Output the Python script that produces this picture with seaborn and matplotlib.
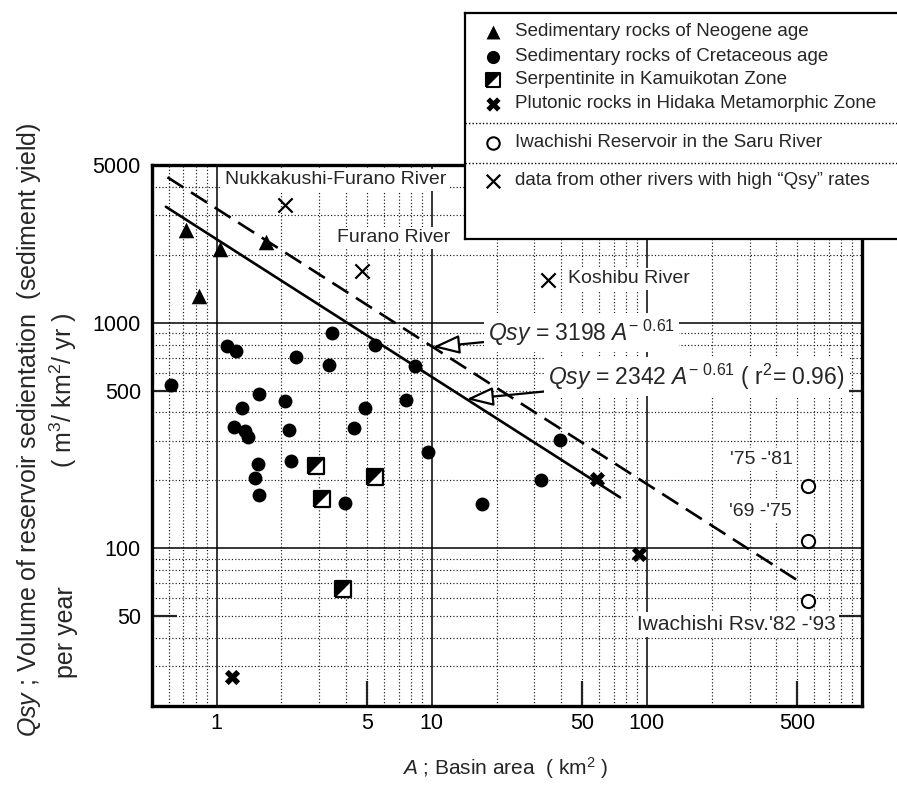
import numpy as np
import matplotlib
matplotlib.use("Agg")
import matplotlib.pyplot as plt
import seaborn as sns
from matplotlib.ticker import FixedLocator, LogLocator, FuncFormatter, NullLocator

# ---- data (A in km2, Qsy in m3/km2/yr) ----
neogene_area = [0.72, 0.83, 1.03, 1.69]
neogene_qsy = [2580, 1310, 2130, 2290]

cret_area = [0.615, 1.12, 1.23, 2.33, 3.42, 3.32, 5.47, 8.34, 7.57, 4.88, 4.35, 9.61,
             17.1, 3.93, 1.57, 1.31, 2.07, 1.20, 1.35, 1.40, 2.17, 1.56, 1.51, 1.58,
             2.22, 39.4, 32.1]
cret_qsy = [528, 791, 746, 702, 900, 652, 794, 641, 456, 419, 342, 268,
            157, 158, 485, 419, 448, 346, 330, 312, 333, 237, 205, 172,
            243, 301, 200]

serp_area = [2.88, 3.10, 5.47, 3.87]
serp_qsy = [231, 166, 207, 66]

pluto_area = [1.18, 58.7, 91.8]
pluto_qsy = [26.8, 202, 94]

iwa_area = [560, 560, 560]
iwa_qsy = [189, 108, 58.5]
iwa_labels = ["'75 -'81", "'69 -'75", "Iwachishi Rsv.'82 -'93"]
iwa_label_pos = [(243, 248), (241, 146), (90, 46)]
iwa_label_size = [14, 14, 15]

other_area = [2.07, 4.74, 34.7]
other_qsy = [3330, 1700, 1550]
other_names = ["Nukkakushi-Furano River", "Furano River", "Koshibu River"]
other_label_pos = [(1.09, 4300), (3.61, 2380), (42.9, 1566)]

# fitted curves Qsy = c * A^b
fit_coef = [2342, 3198]
fit_exp = -0.61
fit_range = [[0.58, 75], [0.59, 510]]
fit_text = [r"$\mathit{Qsy}$ = 2342 $\mathit{A}^{\mathrm{-\ 0.61}}$ ( r$^2$= 0.96)",
            r"$\mathit{Qsy}$ = 3198 $\mathit{A}^{\mathrm{-\ 0.61}}$"]
fit_text_pos = [(34.7, 577), (18.2, 903)]
fit_arrow_x = [14.5, 10.1]

legend_labels = ["Sedimentary rocks of Neogene age",
                 "Sedimentary rocks of Cretaceous age",
                 "Serpentinite in Kamuikotan Zone",
                 "Plutonic rocks in Hidaka Metamorphic Zone",
                 "Iwachishi Reservoir in the Saru River",
                 "data from other rivers with high \u201cQsy\u201d rates"]

sns.set_theme(style="white")
plt.rcParams["font.family"] = ["Liberation Sans", "DejaVu Sans"]
plt.rcParams["mathtext.fontset"] = "custom"
plt.rcParams["mathtext.rm"] = "Liberation Sans"
plt.rcParams["mathtext.it"] = "Liberation Sans:italic"
plt.rcParams["mathtext.bf"] = "Liberation Sans:bold"

SQUARE = [(-1, -1), (1, -1), (1, 1), (-1, 1), (-1, -1)]
HALF = [(-1, -1), (-1, 1), (1, 1), (-1, -1)]

fig = plt.figure(figsize=(8.97, 7.85), dpi=100)
fig.patch.set_facecolor("white")
ax = fig.add_axes([152 / 897, 79 / 785, 710 / 897, 541 / 785])
ax.set_xscale("log")
ax.set_yscale("log")
ax.set_xlim(0.5, 1000)
ax.set_ylim(20, 5000)

# fitted lines
styles = ["-", (0, (7.2, 3.4))]
for c, (x0, x1), ls in zip(fit_coef, fit_range, styles):
    xs = np.array([x0, x1])
    sns.lineplot(x=xs, y=c * xs ** fit_exp, ax=ax, color="black", lw=1.9,
                 linestyle=ls, zorder=3)

# points
sns.scatterplot(x=neogene_area, y=neogene_qsy, ax=ax, marker="^", s=125,
                color="black", edgecolor="black", linewidth=0, zorder=5)
sns.scatterplot(x=cret_area, y=cret_qsy, ax=ax, marker="o", s=100,
                color="black", edgecolor="black", linewidth=0, zorder=5)
sns.scatterplot(x=serp_area, y=serp_qsy, ax=ax, marker=SQUARE, s=125,
                color="white", edgecolor="black", linewidth=1.6, zorder=5)
sns.scatterplot(x=serp_area, y=serp_qsy, ax=ax, marker=HALF, s=125,
                color="black", edgecolor="black", linewidth=0, zorder=6)
sns.scatterplot(x=pluto_area, y=pluto_qsy, ax=ax, marker="X", s=120,
                color="black", edgecolor="black", linewidth=0, zorder=5)
sns.scatterplot(x=iwa_area, y=iwa_qsy, ax=ax, marker="o", s=90,
                color="white", edgecolor="black", linewidth=1.5, zorder=5)
sns.scatterplot(x=other_area, y=other_qsy, ax=ax, marker="x", s=105,
                color="black", linewidth=1.6, zorder=5)

box = dict(fc="white", ec="none", pad=2)
for name, (tx, ty) in zip(other_names, other_label_pos):
    ax.text(tx, ty, name, fontsize=14, ha="left", va="center", bbox=box, zorder=4)
for lab, (tx, ty), fs in zip(iwa_labels, iwa_label_pos, iwa_label_size):
    ax.text(tx, ty, lab, fontsize=fs, ha="left", va="center", bbox=box, zorder=4)

for c, txt, (tx, ty), axx in zip(fit_coef, fit_text, fit_text_pos, fit_arrow_x):
    ax.annotate(txt, xy=(axx, c * axx ** fit_exp), xytext=(tx, ty),
                fontsize=16.5, ha="left", va="center", zorder=7,
                bbox=dict(fc="white", ec="none", pad=3),
                arrowprops=dict(arrowstyle="-|>,head_length=1.0,head_width=0.35",
                                fc="white", ec="black", lw=1.6,
                                shrinkA=0, shrinkB=0))

# grid and ticks
ax.xaxis.set_major_locator(FixedLocator([1, 10, 100]))
ax.yaxis.set_major_locator(FixedLocator([100, 1000]))
ax.xaxis.set_minor_locator(LogLocator(base=10, subs=np.arange(2, 10), numticks=20))
ax.yaxis.set_minor_locator(LogLocator(base=10, subs=np.arange(2, 10), numticks=20))
ax.xaxis.set_major_formatter(FuncFormatter(lambda v, p: f"{v:g}"))
ax.yaxis.set_major_formatter(FuncFormatter(lambda v, p: f"{v:g}"))
ax.xaxis.set_minor_formatter(FuncFormatter(
    lambda v, p: f"{v:.0f}" if f"{v:.0f}" in ("5", "50", "500") else ""))
ax.yaxis.set_minor_formatter(FuncFormatter(
    lambda v, p: f"{v:.0f}" if f"{v:.0f}" in ("50", "500", "5000") else ""))
ax.tick_params(which="both", length=0, labelsize=15.5, colors="black")
ax.tick_params(axis="x", which="both", pad=5)
ax.tick_params(axis="y", which="both", pad=8)
ax.grid(True, which="major", color="black", lw=1.1, ls="-")
ax.grid(True, which="minor", color="#1a1a1a", lw=0.85, ls=(0, (1, 1.8)))
ax.set_axisbelow(True)
for sp in ax.spines.values():
    sp.set_linewidth(2.4)
    sp.set_color("black")
ax.set_xlabel("")
ax.set_ylabel("")

# short inward ticks at 5, 50, 500
secx = ax.secondary_xaxis("bottom")
secx.set_xticks([5, 50, 500])
secx.xaxis.set_minor_locator(NullLocator())
secx.tick_params(direction="in", length=18, width=1.6, labelbottom=False)
secx.spines["bottom"].set_visible(False)
for side in ["left", "right"]:
    secy = ax.secondary_yaxis(side)
    secy.set_yticks([50, 500])
    secy.yaxis.set_minor_locator(NullLocator())
    secy.tick_params(direction="in", length=18, width=1.6,
                     labelleft=False, labelright=False)
    secy.spines[side].set_visible(False)

# axis titles
fig.text(505 / 897, 1 - 768 / 785, r"$\mathit{A}$ ; Basin area  ( km$^2$ )",
         fontsize=15, ha="center", va="center")
fig.text(29 / 897, 1 - 430 / 785,
         r"$\mathit{Qsy}$ ; Volume of reservoir sedientation  (sediment yield)",
         fontsize=18, rotation=90, ha="center", va="center")
fig.text(63 / 897, 1 - 390 / 785, r"( m$^3$/ km$^2$/ yr )",
         fontsize=18, rotation=90, ha="center", va="center")
fig.text(66 / 897, 1 - 632 / 785, "per year",
         fontsize=18, rotation=90, ha="center", va="center")

# legend box
lax = fig.add_axes([465 / 897, 1 - 239 / 785, 432 / 897, 226 / 785], zorder=10)
lax.set_xlim(0, 432)
lax.set_ylim(226, 0)
lax.set_xticks([])
lax.set_yticks([])
lax.set_facecolor("white")
for side, sp in lax.spines.items():
    sp.set_linewidth(1.6)
    sp.set_color("black")
lax.spines["right"].set_visible(False)
row_y = [18.7, 43.7, 66.8, 91, 129.7, 167.7]
mk = [dict(marker="^", s=100, c="black", linewidths=0),
      dict(marker="o", s=90, c="black", linewidths=0),
      None,
      dict(marker="X", s=105, c="black", linewidths=0),
      dict(marker="o", s=80, facecolors="white", edgecolors="black", linewidths=1.5),
      dict(marker="x", s=95, c="black", linewidths=1.6)]
for y, lab, m in zip(row_y, legend_labels, mk):
    if m is None:
        lax.scatter([28], [y], marker=SQUARE, s=110, facecolors="white",
                    edgecolors="black", linewidths=1.5)
        lax.scatter([28], [y], marker=HALF, s=110, c="black", linewidths=0)
    else:
        lax.scatter([28], [y], **m)
    lax.text(50, y, lab, fontsize=13.5, ha="left", va="center")
for y in [110.3, 149.7]:
    lax.plot([0, 432], [y, y], color="black", lw=1.0, ls=(0, (1, 1.5)))

fig.savefig("out.png", dpi=100)
